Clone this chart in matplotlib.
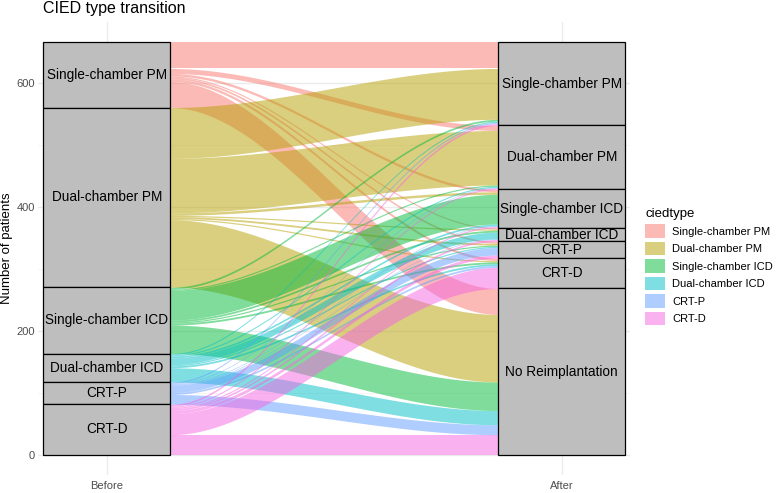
import numpy as np
import matplotlib.pyplot as plt
from matplotlib.patches import Rectangle, Patch

plt.rcParams['font.family'] = ['Liberation Sans', 'DejaVu Sans']

before_types = ['Single-chamber PM', 'Dual-chamber PM', 'Single-chamber ICD',
                'Dual-chamber ICD', 'CRT-P', 'CRT-D']
after_types = before_types + ['No Reimplantation']

# patients going from each "Before" type to each "After" type (order of after_types)
from_single_pm = [42, 8, 4, 2, 3, 4, 42]
from_dual_pm = [82, 88, 4, 2, 3, 2, 109]
from_single_icd = [3, 2, 48, 3, 2, 3, 46]
from_dual_icd = [2, 2, 3, 11, 2, 3, 23]
from_crt_p = [2, 1, 1, 1, 12, 3, 16]
from_crt_d = [3, 2, 2, 3, 5, 34, 32]

flows = np.array([from_single_pm, from_dual_pm, from_single_icd,
                  from_dual_icd, from_crt_p, from_crt_d])
colors = ['#F8766D', '#B79F00', '#00BA38', '#00BFC4', '#619CFF', '#F564E3']

total = flows.sum()
half_w = 0.14
x_left, x_right = 1, 2

fig = plt.figure(figsize=(7.77, 4.93), dpi=100)
ax = fig.add_axes([38 / 777, 18 / 493, 592 / 777, 453 / 493])

# grid like theme_minimal
for y in [100, 300, 500]:
    ax.axhline(y, color='#F2F2F2', lw=0.5, zorder=0)
for y in [0, 200, 400, 600]:
    ax.axhline(y, color='#EBEBEB', lw=1.0, zorder=0)
for x in [x_left, x_right]:
    ax.axvline(x, color='#EBEBEB', lw=1.0, zorder=0)

# lode positions: left side ordered by after stratum, right side by before stratum
left_top = total - np.concatenate([[0], np.cumsum(flows.sum(axis=1))[:-1]])
right_top = total - np.concatenate([[0], np.cumsum(flows.sum(axis=0))[:-1]])

left_pos = np.zeros(flows.shape)
cur = left_top.copy()
for i in range(flows.shape[0]):
    for j in range(flows.shape[1]):
        left_pos[i, j] = cur[i]
        cur[i] -= flows[i, j]

right_pos = np.zeros(flows.shape)
cur = right_top.copy()
for j in range(flows.shape[1]):
    for i in range(flows.shape[0]):
        right_pos[i, j] = cur[j]
        cur[j] -= flows[i, j]

xs = np.linspace(x_left + half_w, x_right - half_w, 200)
t = (xs - xs[0]) / (xs[-1] - xs[0])
s = 3 * t ** 2 - 2 * t ** 3
for i in range(flows.shape[0]):
    for j in range(flows.shape[1]):
        f = flows[i, j]
        if f == 0:
            continue
        top = left_pos[i, j] + (right_pos[i, j] - left_pos[i, j]) * s
        ax.fill_between(xs, top - f, top, color=colors[i], alpha=0.5,
                        lw=0, zorder=2)

# strata boxes
def draw_strata(x, names, counts):
    top = total
    for name, n in zip(names, counts):
        ax.add_patch(Rectangle((x - half_w, top - n), 2 * half_w, n,
                               facecolor='#BEBEBE', edgecolor='black',
                               lw=0.9, zorder=3))
        ax.text(x, top - n / 2, name, ha='center', va='center',
                fontsize=9.8, color='black', zorder=4)
        top -= n

draw_strata(x_left, before_types, flows.sum(axis=1))
draw_strata(x_right, after_types, flows.sum(axis=0))

ax.set_xlim(0.849, 2.15)
ax.set_ylim(-33, 698)
ax.set_xticks([x_left, x_right])
ax.set_xticklabels(['Before', 'After'])
ax.set_yticks([0, 200, 400, 600])
ax.tick_params(axis='x', length=0, labelsize=8, colors='#4D4D4D', pad=4)
ax.tick_params(axis='y', length=0, labelsize=8, colors='#4D4D4D', pad=2)
for sp in ax.spines.values():
    sp.set_visible(False)
ax.set_ylabel('Number of patients', fontsize=9.5)
ax.yaxis.set_label_coords(-25 / 592, 0.5)

fig.text(43 / 777, 1 - 9 / 493, 'CIED type transition', fontsize=11.5,
         ha='left', va='center')

handles = [Patch(facecolor=c, alpha=0.5, lw=0) for c in colors]
leg = fig.legend(handles, before_types, loc='upper left',
                 bbox_to_anchor=(641 / 777, 1 - 204 / 493), frameon=False,
                 title='ciedtype', fontsize=8, title_fontsize=9.5,
                 handlelength=1.8, handleheight=1.5, labelspacing=0.35,
                 handletextpad=0.6, borderaxespad=0)
leg._legend_box.align = 'left'

fig.savefig('out.png', dpi=100)
